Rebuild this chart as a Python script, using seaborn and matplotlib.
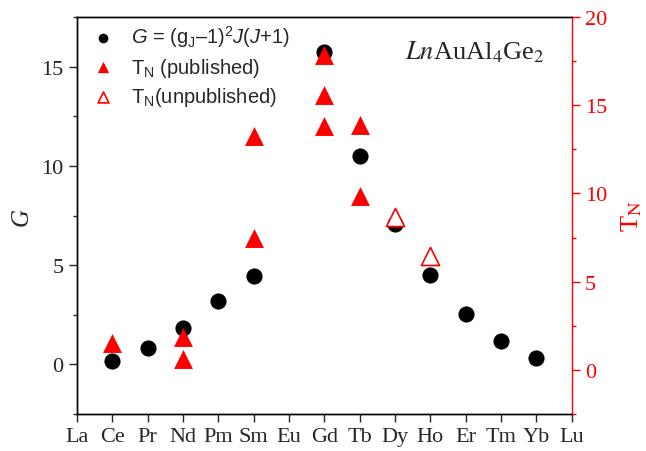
import numpy as np
import pandas as pd
import matplotlib
matplotlib.use("Agg")
import matplotlib.pyplot as plt
from matplotlib.ticker import MultipleLocator
import seaborn as sns

#%% data
elements = ["La", "Ce", "Pr", "Nd", "Pm", "Sm", "Eu", "Gd",
            "Tb", "Dy", "Ho", "Er", "Tm", "Yb", "Lu"]

g_elem = ["Ce", "Pr", "Nd", "Pm", "Sm", "Gd", "Tb", "Dy", "Ho", "Er", "Tm", "Yb"]
g_vals = [0.18, 0.80, 1.84, 3.20, 4.46, 15.75, 10.50, 7.08, 4.50, 2.55, 1.17, 0.32]

tn_pub_elem = ["Ce", "Nd", "Nd", "Sm", "Sm", "Gd", "Gd", "Gd", "Tb", "Tb"]
tn_pub_vals = [1.5, 1.85, 0.6, 13.25, 7.45, 17.85, 15.6, 13.85, 13.9, 9.85]

tn_unpub_elem = ["Dy", "Ho"]
tn_unpub_vals = [8.65, 6.45]

df_g = pd.DataFrame({"x": [elements.index(e) for e in g_elem], "G": g_vals})
df_pub = pd.DataFrame({"x": [elements.index(e) for e in tn_pub_elem], "TN": tn_pub_vals})
df_unpub = pd.DataFrame({"x": [elements.index(e) for e in tn_unpub_elem], "TN": tn_unpub_vals})

#%% style
sns.set_style("ticks")
plt.rcParams["font.family"] = ["Liberation Serif", "DejaVu Serif"]
plt.rcParams["mathtext.fontset"] = "custom"
plt.rcParams["mathtext.rm"] = "Liberation Sans"
plt.rcParams["mathtext.it"] = "Liberation Sans:italic"
plt.rcParams["mathtext.bf"] = "Liberation Sans:bold"

red = "#ff0000"
fig = plt.figure(figsize=(6.46, 4.52), dpi=100)
ax = fig.add_axes([0.119, 0.082, 0.766, 0.878])
ax2 = ax.twinx()

sns.scatterplot(data=df_g, x="x", y="G", ax=ax, color="black", s=135,
                marker="o", linewidth=0, label=r"$G$ = (g$_\mathrm{J}$–1)$^2$$J$($J$+1)",
                legend=False)
sns.scatterplot(data=df_pub, x="x", y="TN", ax=ax2, color=red, s=185,
                marker="^", linewidth=0, label=r"T$_\mathrm{N}$ (published)",
                legend=False)
sns.scatterplot(data=df_unpub, x="x", y="TN", ax=ax2, color="white", edgecolor=red,
                s=170, marker="^", linewidth=1.2, label=r"T$_\mathrm{N}$(unpublished)",
                legend=False)

ax.set_xlim(0, len(elements) - 1)
ax.set_xticks(range(len(elements)))
ax.set_xticklabels(elements)
ax.set_ylim(-2.5, 17.5)
ax.yaxis.set_major_locator(MultipleLocator(5))
ax.yaxis.set_minor_locator(MultipleLocator(2.5))
ax2.set_ylim(-2.5, 20)
ax2.yaxis.set_major_locator(MultipleLocator(5))
ax2.yaxis.set_minor_locator(MultipleLocator(2.5))

ax.set_xlabel("")
ax.set_ylabel("G", fontsize=18, fontstyle="italic", labelpad=6)
ax2.set_ylabel(r"T$_\mathrm{N}$", fontsize=19, color=red, math_fontfamily="stix", labelpad=9)

for a in (ax, ax2):
    for s in a.spines.values():
        s.set_linewidth(1.0)
        s.set_color("black")
ax.spines["right"].set_visible(False)
ax2.spines["right"].set_color(red)
ax.tick_params(axis="both", which="major", labelsize=16, length=6, width=1, direction="out")
ax.tick_params(axis="y", which="minor", length=3, width=1, direction="out")
ax.tick_params(axis="x", which="minor", bottom=False)
ax2.tick_params(axis="y", which="major", labelsize=16, length=6, width=1,
                colors=red, direction="out")
ax2.tick_params(axis="y", which="minor", length=3, width=1, colors=red, direction="out")

ax.text(0.663, 0.897, r"$\it{Ln}$AuAl$_4$Ge$_2$", transform=ax.transAxes,
        fontsize=19, math_fontfamily="stix", ha="left", va="baseline")

h1, l1 = ax.get_legend_handles_labels()
h2, l2 = ax2.get_legend_handles_labels()
leg = ax2.legend(h1 + h2, l1 + l2, loc="upper left", bbox_to_anchor=(0.0, 1.02),
                 frameon=False, markerscale=0.6,
                 prop={"family": "Liberation Sans", "size": 14.5},
                 handletextpad=0.8, labelspacing=0.33, borderaxespad=0.3,
                 handlelength=1.2)

fig.savefig("out.png", dpi=100)
